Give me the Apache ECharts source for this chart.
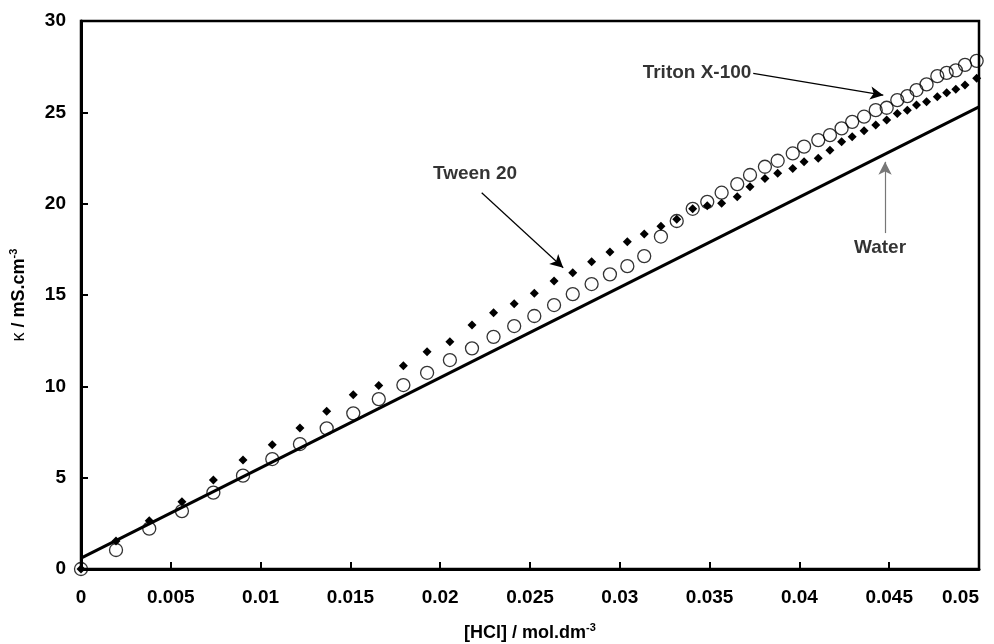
<!DOCTYPE html>
<html>
<head>
<meta charset="utf-8">
<script src="https://cdn.jsdelivr.net/npm/echarts@6/dist/echarts.min.js"></script>
<style>
html, body { margin: 0; padding: 0; background: #fff; }
#chart { width: 994px; height: 644px; }
</style>
</head>
<body>
<div id="chart"></div>
<script>
// [HCl] / mol.dm-3, shared by both surfactant series
var hcl = [0, 0.00195, 0.0038, 0.00562, 0.00737, 0.00902, 0.01065, 0.01219, 0.01368, 0.01516,
    0.01658, 0.01795, 0.01927, 0.02054, 0.02177, 0.02297, 0.02412, 0.02524, 0.02634, 0.02738,
    0.02843, 0.02945, 0.03042, 0.03136, 0.03229, 0.03317, 0.03406, 0.03487, 0.03567, 0.03654,
    0.03725, 0.03808, 0.03879, 0.03963, 0.04026, 0.04105, 0.04170, 0.04235, 0.04294, 0.04360,
    0.04425, 0.04486, 0.04545, 0.04601, 0.04652, 0.04708, 0.04768, 0.04820, 0.04871, 0.04922,
    0.04987];
// kappa / mS.cm-3
var triton = [0, 1.04, 2.21, 3.17, 4.18, 5.11, 6.02, 6.84, 7.70, 8.52,
    9.30, 10.07, 10.74, 11.44, 12.08, 12.71, 13.30, 13.85, 14.45, 15.05,
    15.6, 16.13, 16.58, 17.13, 18.2, 19.05, 19.72, 20.1, 20.6, 21.07,
    21.57, 22.02, 22.35, 22.75, 23.12, 23.48, 23.75, 24.12, 24.48, 24.76,
    25.12, 25.25, 25.67, 25.89, 26.22, 26.53, 26.98, 27.16, 27.3, 27.6,
    27.82];
var tween = [0, 1.53, 2.64, 3.68, 4.87, 5.97, 6.80, 7.72, 8.63, 9.54,
    10.05, 11.13, 11.9, 12.44, 13.36, 14.03, 14.52, 15.09, 15.76, 16.22,
    16.82, 17.35, 17.92, 18.34, 18.77, 19.15, 19.72, 19.89, 20.02, 20.38,
    20.93, 21.38, 21.66, 21.93, 22.29, 22.48, 22.93, 23.39, 23.66, 23.99,
    24.30, 24.58, 24.94, 25.12, 25.40, 25.58, 25.85, 26.07, 26.26, 26.49,
    26.86];
var waterX = [0, 0.05];
var waterY = [0.6, 25.3];

// annotations (data coordinates)
var noteNames = ['Tween 20', 'Triton X-100', 'Water'];
var notePos = [[0.02194, 21.65], [0.0343, 27.15], [0.04449, 17.57]];
var arrowFrom = [[0.02231, 20.6], [0.03743, 27.13], [0.04477, 18.39]];
var arrowTo = [[0.02685, 16.49], [0.04467, 25.94], [0.04477, 22.29]];
var arrowColor = ['#000', '#000', '#777'];

var font = "'Liberation Sans', Arial, sans-serif";

function pairs(xs, ys) {
    var out = [];
    for (var i = 0; i < xs.length; i++) out.push([xs[i], ys[i]]);
    return out;
}

var arrows = [];
for (var i = 0; i < arrowFrom.length; i++) {
    arrows.push([
        { coord: arrowFrom[i], lineStyle: { color: arrowColor[i] } },
        { coord: arrowTo[i] }
    ]);
}
var notes = [];
for (var i = 0; i < noteNames.length; i++) {
    notes.push({ value: notePos[i], name: noteNames[i] });
}

var myChart = echarts.init(document.getElementById('chart'));
var option = {
    animation: false,
    backgroundColor: '#fff',
    grid: {
        left: 81, right: 15, top: 21, bottom: 75,
        containLabel: false, outerBoundsMode: 'none',
        show: true, borderColor: '#000', borderWidth: 2.5
    },
    xAxis: {
        type: 'value', min: 0, max: 0.05, interval: 0.005,
        name: '{b|[HCl] / mol.dm}{s|-3}',
        nameLocation: 'middle', nameGap: 53,
        nameTextStyle: {
            rich: {
                b: { fontFamily: font, fontWeight: 'bold', fontSize: 18, color: '#000', lineHeight: 22 },
                s: { fontFamily: font, fontWeight: 'bold', fontSize: 11, color: '#000', verticalAlign: 'top', lineHeight: 22 }
            }
        },
        axisLine: { lineStyle: { color: '#000', width: 3 } },
        axisTick: { inside: true, length: 7, lineStyle: { color: '#000', width: 2 } },
        axisLabel: {
            margin: 19, color: '#000', fontFamily: font, fontWeight: 'bold', fontSize: 19,
            alignMaxLabel: 'right'
        },
        splitLine: { show: false }
    },
    yAxis: {
        type: 'value', min: 0, max: 30, interval: 5,
        name: '{k|κ}{b| / mS.cm}{s|-3}',
        nameLocation: 'middle', nameRotate: 90, nameGap: 51,
        nameTextStyle: {
            rich: {
                k: { fontFamily: font, fontSize: 18, color: '#000', lineHeight: 22 },
                b: { fontFamily: font, fontWeight: 'bold', fontSize: 18, color: '#000', lineHeight: 22 },
                s: { fontFamily: font, fontWeight: 'bold', fontSize: 11, color: '#000', verticalAlign: 'top', lineHeight: 22 }
            }
        },
        axisLine: { lineStyle: { color: '#000', width: 3 } },
        axisTick: { inside: true, length: 7, lineStyle: { color: '#000', width: 2 } },
        axisLabel: { margin: 15, color: '#000', fontFamily: font, fontWeight: 'bold', fontSize: 19 },
        splitLine: { show: false }
    },
    series: [
        {
            name: 'Water',
            type: 'line',
            data: pairs(waterX, waterY),
            showSymbol: false,
            lineStyle: { color: '#000', width: 3 },
            z: 2,
            markLine: {
                silent: true,
                symbol: ['none', 'arrow'],
                symbolSize: [10, 13],
                label: { show: false },
                lineStyle: { color: '#000', width: 1.2, type: 'solid' },
                data: arrows
            }
        },
        {
            name: 'Triton X-100',
            type: 'scatter',
            data: pairs(hcl, triton),
            symbol: 'circle',
            symbolSize: 13,
            itemStyle: { color: 'rgba(255,255,255,0)', borderColor: '#000', borderWidth: 1.3 },
            z: 3
        },
        {
            name: 'Tween 20',
            type: 'scatter',
            data: pairs(hcl, tween),
            symbol: 'diamond',
            symbolSize: 9,
            itemStyle: { color: '#000', opacity: 1 },
            z: 4
        },
        {
            name: 'notes',
            type: 'scatter',
            data: notes,
            symbolSize: 0,
            silent: true,
            label: {
                show: true,
                position: [0, 0],
                align: 'center',
                verticalAlign: 'middle',
                formatter: '{b}',
                color: '#000',
                fontFamily: font,
                fontWeight: 'bold',
                fontSize: 19
            },
            z: 5
        }
    ]
};
myChart.setOption(option);
</script>
</body>
</html>
